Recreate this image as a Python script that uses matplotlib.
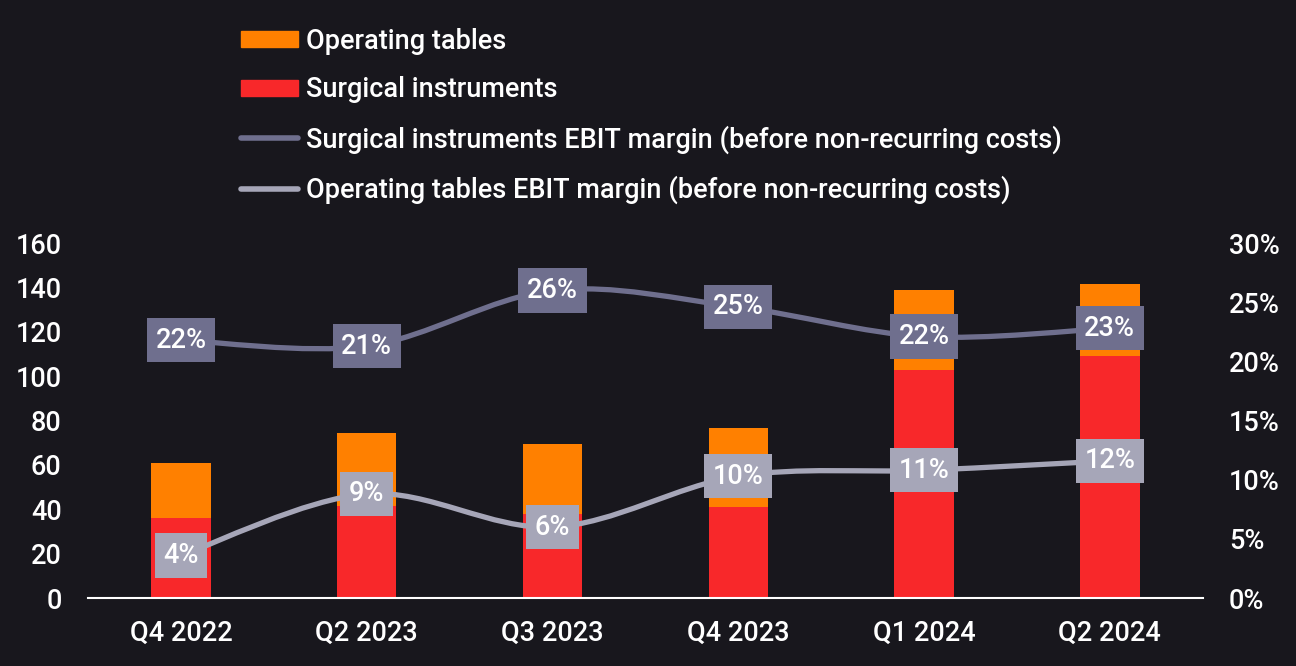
import matplotlib
matplotlib.use("Agg")
import matplotlib.pyplot as plt
from matplotlib.path import Path
from matplotlib.patches import PathPatch
from matplotlib.lines import Line2D
from matplotlib.patches import Patch

plt.rcParams["font.family"] = ["Roboto", "DejaVu Sans"]
plt.rcParams["font.weight"] = "medium"

# data
quarters = ["Q4 2022", "Q2 2023", "Q3 2023", "Q4 2023", "Q1 2024", "Q2 2024"]
surgical = [36, 41.5, 38, 41, 103, 109]
operating = [25, 33, 31.5, 35.5, 36, 32.5]
surgical_margin = [21.8, 21.3, 26.0, 24.6, 22.1, 22.8]
operating_margin = [3.6, 8.8, 6.0, 10.3, 10.8, 11.6]

BG = "#18171d"
ORANGE = "#ff8000"
RED = "#f8282a"
DARK_LINE = "#6f6f8e"
LIGHT_LINE = "#a6a6b8"
FS = 19.5


def smooth_path(xs, ys):
    """Catmull-Rom style cubic bezier through the points."""
    pts = list(zip(xs, ys))
    n = len(pts)
    verts = [pts[0]]
    codes = [Path.MOVETO]
    for i in range(n - 1):
        p0 = pts[i - 1] if i > 0 else pts[i]
        p1 = pts[i]
        p2 = pts[i + 1]
        p3 = pts[i + 2] if i + 2 < n else pts[i + 1]
        c1 = (p1[0] + (p2[0] - p0[0]) / 6, p1[1] + (p2[1] - p0[1]) / 6)
        c2 = (p2[0] - (p3[0] - p1[0]) / 6, p2[1] - (p3[1] - p1[1]) / 6)
        verts += [c1, c2, p2]
        codes += [Path.CURVE4] * 3
    return Path(verts, codes)


fig = plt.figure(figsize=(12.96, 6.66), dpi=100, facecolor=BG)
ax = fig.add_axes([0.068, 0.102, 0.86, 0.533])
ax.set_facecolor(BG)
x = list(range(len(quarters)))

ax.bar(x, surgical, width=0.32, color=RED, zorder=2)
ax.bar(x, operating, width=0.32, bottom=surgical, color=ORANGE, zorder=2)

ax.set_xlim(-0.5, len(quarters) - 0.5)
ax.set_ylim(0, 160)
ax.set_yticks(range(0, 161, 20))
ax.set_xticks(x)
ax.set_xticklabels(quarters)
ax.tick_params(axis="both", length=0, colors="white", labelsize=FS)
ax.tick_params(axis="x", pad=16)
ax.tick_params(axis="y", pad=19)
for side in ["left", "right", "top"]:
    ax.spines[side].set_visible(False)
ax.spines["bottom"].set_color("white")
ax.spines["bottom"].set_linewidth(1.5)

ax2 = ax.twinx()
ax2.set_ylim(0, 30)
ax2.set_yticks(range(0, 31, 5))
ax2.set_yticklabels([f"{v}%" for v in range(0, 31, 5)])
ax2.tick_params(axis="y", length=0, colors="white", labelsize=FS, pad=19)
for side in ["left", "right", "top", "bottom"]:
    ax2.spines[side].set_visible(False)

for vals, col in [(surgical_margin, DARK_LINE), (operating_margin, LIGHT_LINE)]:
    ax2.add_patch(PathPatch(smooth_path(x, vals), facecolor="none",
                            edgecolor=col, lw=3.8, capstyle="round", zorder=3))
    for xi, v in zip(x, vals):
        ax2.text(xi, v, f"{round(v)}%", ha="center", va="center",
                 color="white", fontsize=FS, zorder=4,
                 bbox=dict(boxstyle="square,pad=0.32", fc=col, ec="none"))

handles = [
    Patch(color=ORANGE, label="Operating tables"),
    Patch(color=RED, label="Surgical instruments"),
    Line2D([], [], color=DARK_LINE, lw=4, solid_capstyle="round",
           label="Surgical instruments EBIT margin (before non-recurring costs)"),
    Line2D([], [], color=LIGHT_LINE, lw=4, solid_capstyle="round",
           label="Operating tables EBIT margin (before non-recurring costs)"),
]
fig.legend(handles=handles, loc="upper left", bbox_to_anchor=(0.167, 0.995),
           frameon=False, fontsize=FS, labelcolor="white",
           handlelength=2.1, handleheight=0.55, handletextpad=0.3,
           labelspacing=0.8)

fig.savefig("out.png", dpi=100, facecolor=BG)
